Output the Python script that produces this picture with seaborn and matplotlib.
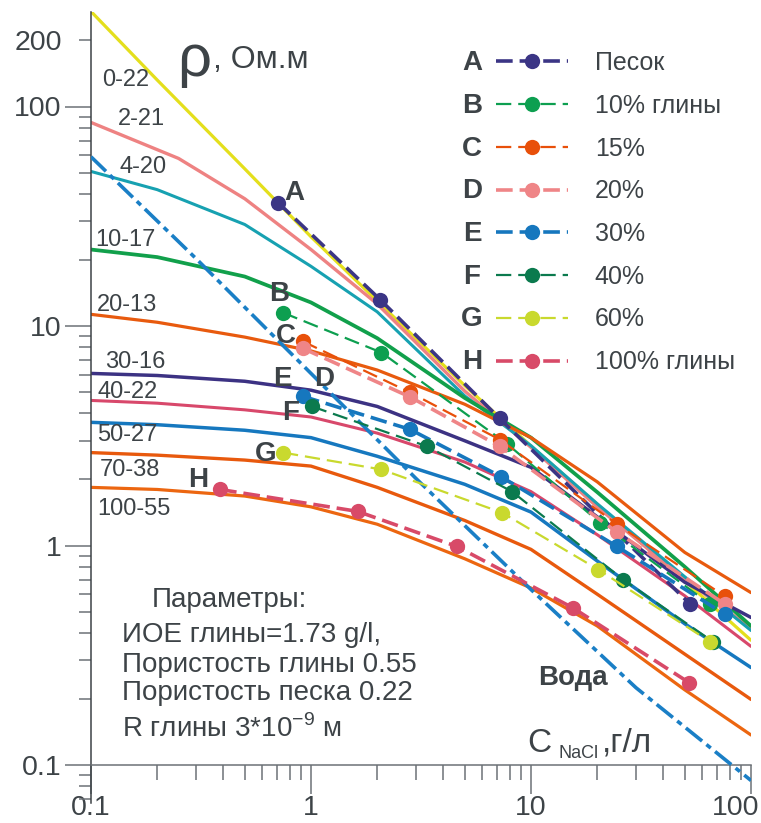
import numpy as np
import pandas as pd
import matplotlib
matplotlib.use("Agg")
import matplotlib.pyplot as plt
import matplotlib.ticker as mticker
import matplotlib.transforms as mtransforms
import seaborn as sns

sns.set_style("white")
plt.rcParams["font.family"] = ["Liberation Sans", "DejaVu Sans"]
plt.rcParams["mathtext.fontset"] = "custom"
plt.rcParams["mathtext.rm"] = "Liberation Sans"
plt.rcParams["lines.scale_dashes"] = False

W, H = 761, 823
TXT = "#3d4347"

# ---- model curves: resistivity vs NaCl concentration (clay % - porosity %) ----
conc = [0.1, 0.2, 0.5, 1, 2, 5, 10, 20, 50, 100]
conc_2_21 = [0.1, 0.25, 0.5, 1, 2, 5, 10, 20, 50, 100]

rho_0_22 = [271, 132, 52, 25.5, 13.0, 5.35, 2.84, 1.54, 0.69, 0.37]
rho_2_21 = [84.6, 58, 38, 22.3, 12.6, 5.05, 2.8, 1.5, 0.70, 0.42]
rho_4_20 = [50.6, 41.8, 29, 18.7, 11.6, 4.8, 2.85, 1.55, 0.72, 0.41]
rho_10_17 = [22.3, 20.6, 16.8, 12.8, 8.8, 4.7, 3.1, 1.75, 0.80, 0.43]
rho_20_13 = [11.3, 10.4, 8.9, 7.7, 6.3, 4.4, 3.1, 1.95, 0.93, 0.61]
rho_30_16 = [6.08, 5.95, 5.6, 5.1, 4.3, 3.0, 2.27, 1.35, 0.68, 0.47]
rho_40_22 = [4.58, 4.45, 4.15, 3.85, 3.25, 2.4, 1.76, 1.12, 0.59, 0.347]
rho_50_27 = [3.64, 3.55, 3.35, 3.1, 2.55, 1.9, 1.42, 0.85, 0.44, 0.278]
rho_70_38 = [2.65, 2.58, 2.45, 2.3, 1.84, 1.3, 0.96, 0.60, 0.32, 0.199]
rho_100_55 = [1.84, 1.8, 1.68, 1.5, 1.25, 0.87, 0.64, 0.43, 0.22, 0.137]

curve_names = ["0-22", "2-21", "4-20", "10-17", "20-13",
               "30-16", "40-22", "50-27", "70-38", "100-55"]
curve_colors = ["#e4df1c", "#ee8282", "#17a1b1", "#11a04b", "#e85a0e",
                "#3c3283", "#d8486b", "#1678bf", "#e8590d", "#ec6610"]
curve_widths = [2.3, 2.4, 2.2, 2.7, 2.3, 2.5, 2.2, 2.5, 2.4, 2.3]

# ---- fresh water ----
conc_water = [0.1, 0.3, 1, 3, 10, 30, 100]
rho_water = [59, 20.3, 6.08, 2.02, 0.63, 0.225, 0.085]

# ---- measured series ----
series_letters = ["A", "B", "C", "D", "E", "F", "G", "H"]
series_labels = ["Песок", "10% глины", "15%", "20%", "30%", "40%", "60%", "100% глины"]
series_colors = ["#3b3585", "#0d9f50", "#e8500a", "#ef8587",
                 "#1677be", "#0b7a4e", "#c9d92e", "#d84a68"]
series_widths = [2.6, 1.6, 1.6, 2.6, 2.6, 1.6, 1.6, 2.6]

conc_A = [0.708, 2.06, 7.2, 52.6]
rho_A = [36.5, 13.2, 3.79, 0.544]
conc_B = [0.746, 2.09, 7.8, 20.6, 65]
rho_B = [11.5, 7.57, 2.9, 1.27, 0.54]
conc_C = [0.92, 2.82, 7.2, 24.6, 76.2]
rho_C = [8.5, 4.98, 3.04, 1.25, 0.586]
conc_D = [0.92, 2.82, 7.2, 24.6, 76.2]
rho_D = [7.9, 4.75, 2.83, 1.15, 0.54]
conc_E = [0.92, 2.82, 7.3, 24.6, 76.2]
rho_E = [4.78, 3.38, 2.06, 0.99, 0.485]
conc_F = [1.01, 3.37, 8.2, 26.2, 67]
rho_F = [4.3, 2.83, 1.76, 0.70, 0.365]
conc_G = [0.746, 2.09, 7.4, 20.2, 65]
rho_G = [2.65, 2.22, 1.41, 0.777, 0.365]
conc_H = [0.386, 1.63, 4.6, 15.5, 52.4]
rho_H = [1.8, 1.43, 0.99, 0.52, 0.237]

x_ticks = [0.1, 1, 10, 100]
y_ticks = [0.1, 1, 10, 100]

fig = plt.figure(figsize=(W / 100, H / 100), dpi=100)
ax = fig.add_axes([91 / W, 20 / H, 660 / W, 791 / H])
ax.set(xscale="log", yscale="log")

curve_rhos = [rho_0_22, rho_2_21, rho_4_20, rho_10_17, rho_20_13,
              rho_30_16, rho_40_22, rho_50_27, rho_70_38, rho_100_55]
for name, rho, col, lw in zip(curve_names, curve_rhos, curve_colors, curve_widths):
    xs = conc_2_21 if name == "2-21" else conc
    df = pd.DataFrame({"C": xs, "rho": rho})
    sns.lineplot(data=df, x="C", y="rho", color=col, lw=lw, ax=ax,
                 estimator=None, sort=False, zorder=2)

dfw = pd.DataFrame({"C": conc_water, "rho": rho_water})
sns.lineplot(data=dfw, x="C", y="rho", color="#1a7fc6", lw=2.6, ax=ax,
             estimator=None, sort=False, zorder=3)
ax.lines[-1].set_dashes((15, 4, 4, 4))

series_c = [conc_A, conc_B, conc_C, conc_D, conc_E, conc_F, conc_G, conc_H]
series_r = [rho_A, rho_B, rho_C, rho_D, rho_E, rho_F, rho_G, rho_H]
handles = []
for cs, rs, col, lw in zip(series_c, series_r, series_colors, series_widths):
    df = pd.DataFrame({"C": cs, "rho": rs})
    sns.lineplot(data=df, x="C", y="rho", color=col, lw=lw, ax=ax,
                 estimator=None, sort=False, marker="o", markersize=11,
                 markeredgewidth=0, zorder=4)
    ln = ax.lines[-1]
    ln.set_dashes((11, 5) if lw < 2 else (12, 5))
    handles.append(ln)

# ---- axes ----
ax.set_xlim(0.1, 100)
ax.set_ylim(0.1 * 10 ** ((765 - 803) / 219.5), 0.1 * 10 ** ((765 - 12) / 219.5))
ax.set_xlabel("")
ax.set_ylabel("")
for s in ["top", "right"]:
    ax.spines[s].set_visible(False)
ax.spines["bottom"].set_position(("data", 0.1))
ax.spines["bottom"].set_color("#6c7176")
ax.spines["bottom"].set_linewidth(1.1)
ax.spines["left"].set_color("#3d4347")
ax.spines["left"].set_linewidth(1.1)

ax.xaxis.set_major_locator(mticker.FixedLocator(x_ticks))
ax.xaxis.set_minor_locator(mticker.LogLocator(base=10, subs=range(2, 10), numticks=20))
ax.xaxis.set_major_formatter(mticker.FuncFormatter(lambda v, p: f"{v:g}"))
ax.xaxis.set_minor_formatter(mticker.NullFormatter())
ax.yaxis.set_major_locator(mticker.FixedLocator(y_ticks))
ax.yaxis.set_minor_locator(mticker.LogLocator(base=10, subs=range(2, 10), numticks=20))
ax.yaxis.set_major_formatter(mticker.FuncFormatter(lambda v, p: f"{v:g}"))
ax.yaxis.set_minor_formatter(mticker.FuncFormatter(lambda v, p: "200" if abs(v - 200) < 1 else ""))

ax.tick_params(which="both", bottom=True, left=True, top=False, right=False,
               direction="out")
ax.tick_params(axis="x", which="major", length=21, width=1.1, color="#6c7176",
               pad=0.5, labelsize=20.5, labelcolor=TXT)
ax.tick_params(axis="x", which="minor", length=11, width=1.1, color="#6c7176")
ax.tick_params(axis="y", which="major", length=19, width=1.1, color="#6c7176",
               pad=2, labelsize=20.5, labelcolor=TXT)
ax.tick_params(axis="y", which="minor", length=9, width=1.1, color="#6c7176",
               pad=12, labelsize=20.5, labelcolor=TXT)
lbls = ax.get_xticklabels()
lbls[-1].set_transform(lbls[-1].get_transform() +
                       mtransforms.ScaledTranslation(-15 / 100, 0, fig.dpi_scale_trans))


def fpos(x, y):
    return x / W, 1 - y / H


# curve labels
label_pos = [(102, 86), (118, 125), (120, 173), (95, 246), (97, 311),
             (105, 368), (97, 398), (97, 441), (100, 476), (97, 515)]
for name, (x, y) in zip(curve_names, label_pos):
    fig.text(*fpos(x, y), name, fontsize=17, color=TXT, ha="left", va="baseline")

# series letters next to first points
letter_pos = [(294, 200), (279, 301), (286, 343), (324, 386), (282, 386),
              (291, 420), (266, 461), (198, 487)]
for let, (x, y) in zip(series_letters, letter_pos):
    fig.text(*fpos(x, y), let, fontsize=20, fontweight="bold", color=TXT,
             ha="center", va="baseline")

# title
fig.text(*fpos(177, 76), "ρ", fontsize=43, color=TXT, ha="left", va="baseline")
fig.text(*fpos(213, 68), ", Ом.м", fontsize=23, color=TXT, ha="left", va="baseline")

# parameters block
fig.text(*fpos(152, 607), "Параметры:", fontsize=20, color=TXT, va="baseline")
fig.text(*fpos(122, 642), "ИОЕ глины=1.73 g/l,", fontsize=20, color=TXT, va="baseline")
fig.text(*fpos(122, 672), "Пористость глины 0.55", fontsize=20, color=TXT, va="baseline")
fig.text(*fpos(122, 700), "Пористость песка 0.22", fontsize=20, color=TXT, va="baseline")
fig.text(*fpos(122, 737), r"R глины 3*10$^{-9}$ м", fontsize=20, color=TXT, va="baseline")

fig.text(*fpos(538, 685), "Вода", fontsize=20, fontweight="bold", color=TXT, va="baseline")
fig.text(*fpos(527, 752), "C", fontsize=24, color=TXT, va="baseline")
fig.text(*fpos(559, 758), "NaCl", fontsize=13, color=TXT, va="baseline")
fig.text(*fpos(602, 752), ",г/л", fontsize=24, color=TXT, va="baseline")

# legend
leg = ax.legend(handles=handles, labels=series_labels, loc="upper left",
                bbox_to_anchor=(496 / W, 1 - 51 / H), bbox_transform=fig.transFigure,
                frameon=False, fontsize=18, labelcolor=TXT, borderpad=0,
                borderaxespad=0, handlelength=2.9, handletextpad=1.05,
                labelspacing=0.75, numpoints=1)

fig.canvas.draw()
renderer = fig.canvas.get_renderer()
for let, txt in zip(series_letters, leg.get_texts()):
    bb = txt.get_window_extent(renderer)
    yc = (bb.y0 + bb.y1) / 2
    fig.text(472 / W, yc / fig.bbox.height, let, fontsize=20, fontweight="bold",
             color=TXT, ha="center", va="center")

fig.savefig("out.png", dpi=100)
